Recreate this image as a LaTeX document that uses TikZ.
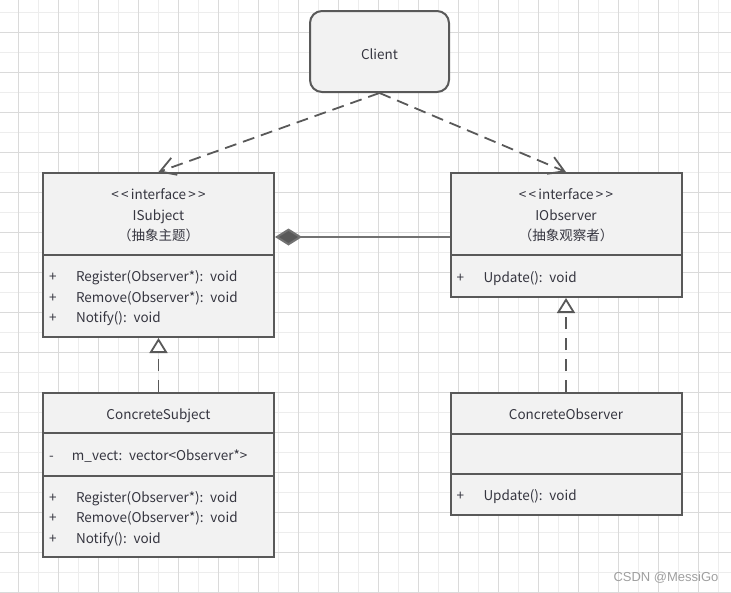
\documentclass[tikz,border=0pt]{standalone}
\usepackage{fontspec}
\setmainfont{Noto Sans CJK SC}
\newfontfamily\wmfont{Liberation Sans}
\usetikzlibrary{arrows.meta}
\definecolor{boxFill}{HTML}{F2F2F2}
\definecolor{boxLine}{HTML}{595959}
\definecolor{textGray}{HTML}{363640}
\definecolor{gridMajor}{HTML}{DADADA}
\definecolor{gridMinor}{HTML}{EDEDED}
\newcommand{\mline}[2]{\makebox[27pt][l]{#1}#2}
\newcommand{\iface}{<\thinspace<\thinspace interface\thinspace>\thinspace>}

\begin{document}
\begin{tikzpicture}[
    x=1pt, y=-1pt,
    box/.style={
        rectangle,
        draw=boxLine,
        line width=2pt,
        fill=boxFill,
        minimum width=231pt,
        inner xsep=6pt,
        text width=219pt,
        text=textGray,
        font=\fontsize{13.5}{20.5}\selectfont,
        align=center,
        execute at begin node={\rule{0pt}{16.5pt}},
        execute at end node={\rule[-4pt]{0pt}{4pt}},
      },
    ops/.style={box, align=left},
    dep/.style={line width=1.8pt, draw=boxLine, dash pattern=on 12pt off 7pt,
        -{Straight Barb[length=15pt, width=18pt]}},
    real/.style={line width=1.8pt, draw=boxLine, dash pattern=on 12pt off 9pt,
        -{Triangle[open, length=15pt, width=18pt, fill=white]}},
    comp/.style={line width=2pt, draw=boxLine!85,
        -{Diamond[length=27pt, width=17pt, fill=boxLine]}},
    wmtext/.style={text=gray!75, font=\wmfont\fontsize{13}{15}\selectfont},
  ]
  \useasboundingbox (0,0) rectangle (731,592);
  \foreach \gx in {38,78,...,738} \draw[gridMinor] (\gx,0) -- (\gx,592);
  \foreach \gy in {12,52,...,600} \draw[gridMinor] (0,\gy) -- (731,\gy);
  \foreach \gx in {18,58,...,738} \draw[gridMajor] (\gx,0) -- (\gx,592);
  \foreach \gy in {32,72,...,600} \draw[gridMajor] (0,\gy) -- (731,\gy);

  \node[box, rounded corners=12pt, minimum width=139pt, text width=127pt, minimum height=81pt,
    execute at begin node={\rule{0pt}{20.5pt}}] (client) at (379.5,51.5) {Client};

  \node[box, minimum height=82pt] (subjHead) at (158.5,214) {\iface\\ISubject\\（抽象主题）};
  \node[ops, minimum height=82pt] (subjOps) at (158.5,296) {\mline{+}{Register(Observer*): void}\\\mline{+}{Remove(Observer*): void}\\\mline{+}{Notify(): void}};

  \node[box, minimum height=82pt] (obsHead) at (566,214) {\iface\\IObserver\\（抽象观察者）};
  \node[ops, minimum height=42pt] (obsOps) at (566,276) {\mline{+}{Update(): void}};

  \node[box, minimum height=40pt] (csName) at (158.5,413) {ConcreteSubject};
  \node[ops, minimum height=43pt] (csAttr) at (158.5,454.5) {\makebox[23pt][l]{-}m\_vect: vector<Observer*>};
  \node[ops, minimum height=81pt] (csOps) at (158.5,516.5) {\mline{+}{Register(Observer*): void}\\\mline{+}{Remove(Observer*): void}\\\mline{+}{Notify(): void}};

  \node[box, minimum height=41pt] (coName) at (566,413.5) {ConcreteObserver};
  \node[box, minimum height=40pt] (coAttr) at (566,454) {};
  \node[ops, minimum height=41pt] (coOps) at (566,494.5) {\mline{+}{Update(): void}};

  \draw[dep] (client.south) -- (subjHead.north);
  \draw[dep] (client.south) -- (obsHead.north);
  \draw[real] (csName.north) -- (subjOps.south);
  \draw[real] (coName.north) -- (obsOps.south);
  \draw[comp] ([yshift=19pt]obsHead.south west) -- ([yshift=19pt]subjHead.south east);

  \node[wmtext] (credit) at (666,578) {CSDN @MessiGo};
\end{tikzpicture}
\end{document}
